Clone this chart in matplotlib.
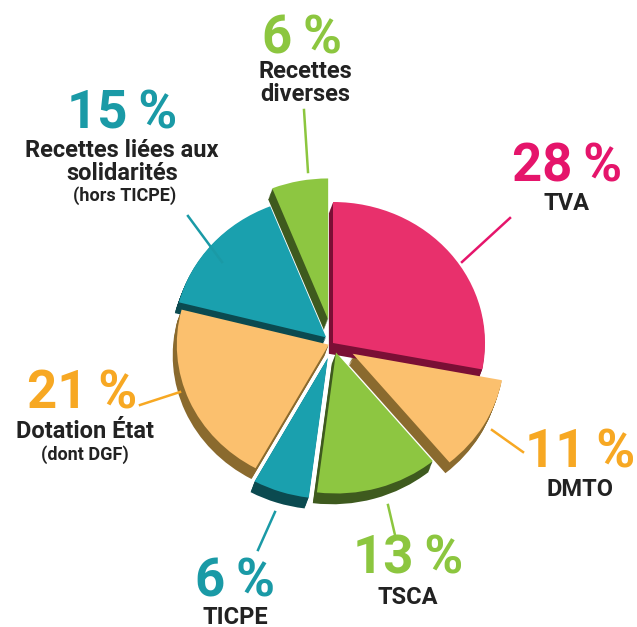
import matplotlib
matplotlib.use('Agg')
import matplotlib.pyplot as plt

plt.rcParams['font.family'] = ['Roboto', 'DejaVu Sans']

# slices, clockwise from 12 o'clock
labels = ['TVA', 'DMTO', 'TSCA', 'TICPE', 'Dotation État', 'Recettes liées aux solidarités', 'Recettes diverses']
values = [28, 11, 13, 6, 21, 15, 6]
explode = [0.0, 0.15, 0.07, 0.11, 0.03, 0.06, 0.17]
top_colors = ['#E8306C', '#FBC06E', '#8DC641', '#1AA0AE', '#FBC06E', '#1AA0AE', '#8DC641']
side_colors = ['#7A0F35', '#8A6A2E', '#3E5A1E', '#0B4A50', '#8A6A2E', '#0B4A50', '#3E5A1E']
label_colors = ['#E5156B', '#F7A823', '#8CC63F', '#1A9AA6', '#F7A823', '#1A9AA6', '#8CC63F']
pct_text = ['28\u2009%', '11\u2009%', '13\u2009%', '6\u2009%', '21\u2009%', '15\u2009%', '6\u2009%']
name_text = ['TVA', 'DMTO', 'TSCA', 'TICPE', 'Dotation État', 'Recettes liées aux\nsolidarités', 'Recettes\ndiverses']
sub_text = ['', '', '', '', '(dont DGF)', '(hors TICPE)', '']

W, H = 637, 627
CX, CY = 333, 343   # pie centre in pixels
SX, SY = 152, 141   # pixels per radius unit


def px(x, y):
    return (x - CX) / SX, (CY - y) / SY


fig = plt.figure(figsize=(W / 100, H / 100), dpi=100)
ax = fig.add_axes([0, 0, 1, 1])

# extruded sides
for k in range(1, 10):
    ax.pie(values, explode=explode, colors=side_colors, startangle=90,
           counterclock=False, center=(-0.003 * k, -0.0085 * k),
           wedgeprops=dict(linewidth=0))
# top faces
ax.pie(values, explode=explode, colors=top_colors, startangle=90,
       counterclock=False, wedgeprops=dict(linewidth=0))

ax.set_xlim(-CX / SX, (W - CX) / SX)
ax.set_ylim(-(H - CY) / SY, CY / SY)
ax.set_aspect('auto')
ax.axis('off')

# label blocks in pixels
pct_pos = [(567, 167), (580, 453), (408, 559), (235, 582), (82, 394), (122, 114), (302, 39)]
name_pos = [(567, 203), (580, 490), (408, 597), (235, 617), (85, 432), (122, 162), (305, 83)]
sub_pos = [None, None, None, None, (85, 455), (125, 196), None]
leaders = [((510, 218), (462, 262)), ((492, 430), (523, 452)), ((388, 505), (395, 535)),
           ((275, 512), (258, 550)), ((140, 405), (180, 392)), ((188, 216), (222, 262)),
           ((304, 110), (308, 172))]

for i in range(len(values)):
    x, y = px(*pct_pos[i])
    ax.text(x, y, pct_text[i], color=label_colors[i], fontsize=38, fontweight='bold',
            ha='center', va='center')
    x, y = px(*name_pos[i])
    ax.text(x, y, name_text[i], color='#222222', fontsize=17, fontweight='bold',
            ha='center', va='center', linespacing=0.95)
    if sub_pos[i]:
        x, y = px(*sub_pos[i])
        ax.text(x, y, sub_text[i], color='#222222', fontsize=13, fontweight='bold',
                ha='center', va='center')
    (x0, y0), (x1, y1) = leaders[i]
    a, b = px(x0, y0)
    c, d = px(x1, y1)
    ax.plot([a, c], [b, d], color=label_colors[i], linewidth=1.8)

fig.savefig('out.png', dpi=100)
